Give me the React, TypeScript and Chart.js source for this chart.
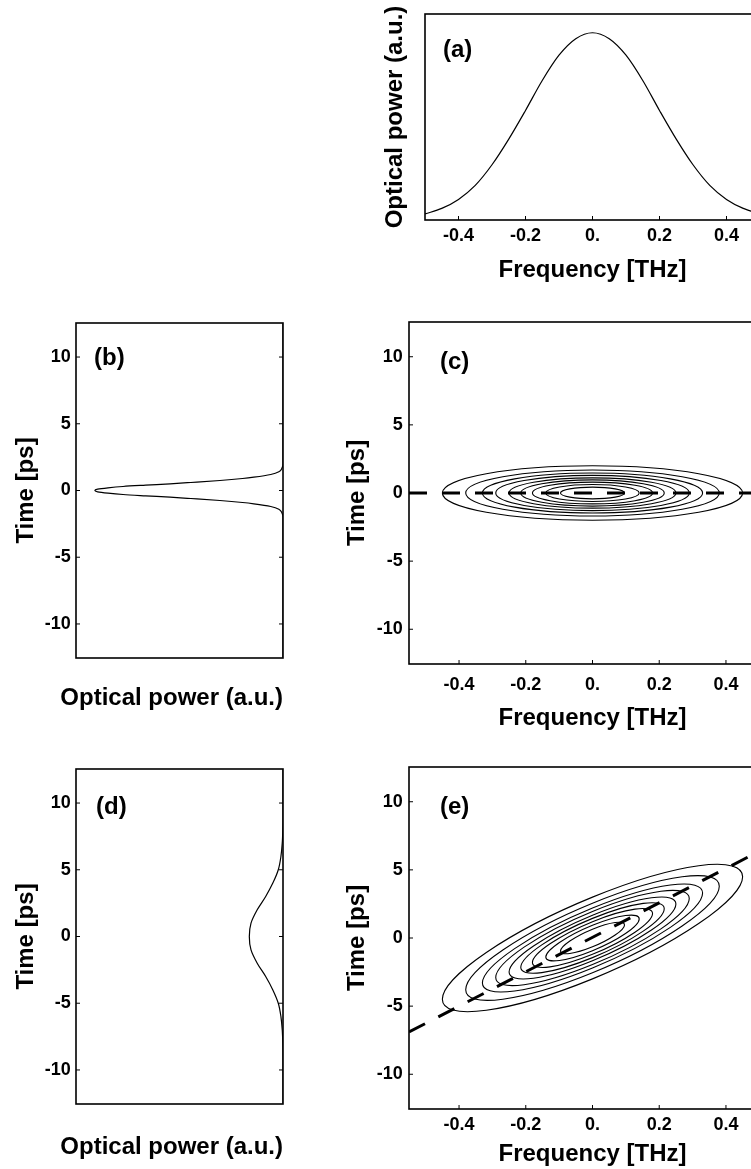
import React, { useEffect, useRef } from "react";
import { Chart, registerables } from "chart.js";

Chart.register(...registerables);

const FONT_FAMILY = "'Liberation Sans', Arial, Helvetica, sans-serif";

// (a) optical spectrum
const spectrumFreq = [-0.5, -0.45, -0.4, -0.35, -0.3, -0.25, -0.2, -0.15, -0.1, -0.05, 0, 0.05, 0.1, 0.15, 0.2, 0.25, 0.3, 0.35, 0.4, 0.45, 0.5];
const spectrumPower = [0.032, 0.062, 0.11, 0.185, 0.295, 0.432, 0.585, 0.745, 0.88, 0.968, 1.0, 0.968, 0.88, 0.745, 0.585, 0.432, 0.295, 0.185, 0.11, 0.062, 0.032];

// (b) temporal profile before dispersion
const inputTime = [-12.5, -2, -1.7, -1.4, -1.2, -1.0, -0.9, -0.75, -0.6, -0.5, -0.4, -0.3, -0.2, -0.1, 0, 0.1, 0.2, 0.3, 0.4, 0.5, 0.6, 0.75, 0.9, 1.0, 1.2, 1.4, 1.7, 2, 12.5];
const inputPower = [0, 0, 0.005, 0.022, 0.065, 0.155, 0.215, 0.335, 0.49, 0.6, 0.73, 0.85, 0.93, 0.985, 1.0, 0.985, 0.93, 0.85, 0.73, 0.6, 0.49, 0.335, 0.215, 0.155, 0.065, 0.022, 0.005, 0, 0];

// (d) temporal profile after dispersion
const outputTime = [-12.5, -9, -8, -7, -6, -5, -4, -3, -2, -1, 0, 1, 2, 3, 4, 5, 6, 7, 8, 9, 12.5];
const outputPower = [0, 0, 0.001, 0.004, 0.011, 0.025, 0.054, 0.092, 0.137, 0.17, 0.179, 0.17, 0.137, 0.092, 0.054, 0.025, 0.011, 0.004, 0.001, 0, 0];

// (c)/(e) time-frequency contour half-widths, outermost first
const contourFreqHalfWidth = [0.45, 0.38, 0.33, 0.29, 0.25, 0.215, 0.18, 0.14, 0.096];
const contourTimeHalfWidth = [2.0, 1.69, 1.47, 1.29, 1.11, 0.96, 0.8, 0.62, 0.43];
const chirpedTimeHalfWidth = [3.0, 2.55, 2.2, 1.95, 1.67, 1.44, 1.2, 0.93, 0.65];
const chirpedShear = 10; // ps per THz

// dashed group-delay lines
const delayFreq = [-0.55, 0.55];
const delayTimeBefore = [0, 0];
const delayTimeAfter = [-6.9, 7.0];

// tick labels
const freqTicks = [-0.4, -0.2, 0, 0.2, 0.4];
const freqTickLabels = ["-0.4", "-0.2", "0.", "0.2", "0.4"];
const timeTicks = [-10, -5, 0, 5, 10];
const timeTickLabels = ["-10", "-5", "0", "5", "10"];

const tickFont = { family: FONT_FAMILY, size: 18, weight: "bold" as const };
const titleFont = { family: FONT_FAMILY, size: 24, weight: "bold" as const };

function framePlugin(label: string, dx: number, dy: number, xTicks: boolean, yTicks: boolean) {
  return {
    id: "panelFrame",
    afterDatasetsDraw(chart: any) {
      const { ctx, chartArea, scales } = chart;
      const { left, top, right, bottom } = chartArea;
      ctx.save();
      ctx.strokeStyle = "#000";
      ctx.lineWidth = 1;
      ctx.beginPath();
      const len = 4;
      if (xTicks) {
        scales.x.ticks.forEach((t: any) => {
          const p = scales.x.getPixelForValue(t.value);
          ctx.moveTo(p, bottom);
          ctx.lineTo(p, bottom - len);
        });
      }
      if (yTicks) {
        scales.y.ticks.forEach((t: any) => {
          const p = scales.y.getPixelForValue(t.value);
          ctx.moveTo(left, p);
          ctx.lineTo(left + len, p);
          ctx.moveTo(right, p);
          ctx.lineTo(right - len, p);
        });
      }
      ctx.stroke();
      ctx.lineWidth = 1.6;
      ctx.strokeRect(left, top, right - left, bottom - top);
      ctx.fillStyle = "#000";
      ctx.font = `bold 24px ${FONT_FAMILY}`;
      ctx.textBaseline = "middle";
      ctx.textAlign = "left";
      ctx.fillText(label, left + dx, top + dy);
      ctx.restore();
    },
  };
}

function contourPlugin(freqHalf: number[], timeHalf: number[], shear: number) {
  return {
    id: "wignerContours",
    beforeDatasetsDraw(chart: any) {
      const { ctx, chartArea, scales } = chart;
      const { x, y } = scales;
      const cx = x.getPixelForValue(0);
      const cy = y.getPixelForValue(0);
      const sx = x.getPixelForValue(1) - cx;
      const sy = cy - y.getPixelForValue(1);
      ctx.save();
      ctx.beginPath();
      ctx.rect(chartArea.left, chartArea.top, chartArea.right - chartArea.left, chartArea.bottom - chartArea.top);
      ctx.clip();
      ctx.strokeStyle = "#000";
      ctx.lineWidth = 1.1;
      freqHalf.forEach((a, i) => {
        const rx = Math.abs(x.getPixelForValue(a) - cx);
        const ry = Math.abs(y.getPixelForValue(timeHalf[i]) - cy);
        ctx.save();
        ctx.transform(1, (-shear * sy) / sx, 0, 1, cx, cy);
        ctx.beginPath();
        ctx.ellipse(0, 0, rx, ry, 0, 0, Math.PI * 2);
        ctx.restore();
        ctx.stroke();
      });
      ctx.restore();
    },
  };
}

function freqAxis(min: number, max: number, height: number, tickPad: number, titlePad: number) {
  return {
    type: "linear",
    position: "bottom",
    min,
    max,
    afterBuildTicks: (s: any) => {
      s.ticks = freqTicks.map((v) => ({ value: v }));
    },
    afterFit: (s: any) => {
      s.height = height;
    },
    ticks: {
      font: tickFont,
      color: "#000",
      padding: tickPad,
      autoSkip: false,
      maxRotation: 0,
      callback: (_v: any, i: number) => freqTickLabels[i],
    },
    grid: { display: false, drawTicks: false },
    border: { display: false },
    title: { display: true, text: "Frequency [THz]", font: titleFont, color: "#000", padding: { top: 0, bottom: titlePad } },
  };
}

function timeAxis(width: number, tickPad: number, titlePad: number) {
  return {
    type: "linear",
    position: "left",
    min: -12.55,
    max: 12.55,
    afterBuildTicks: (s: any) => {
      s.ticks = timeTicks.map((v) => ({ value: v }));
    },
    afterFit: (s: any) => {
      s.width = width;
    },
    ticks: {
      font: tickFont,
      color: "#000",
      padding: tickPad,
      autoSkip: false,
      callback: (_v: any, i: number) => timeTickLabels[i],
    },
    grid: { display: false, drawTicks: false },
    border: { display: false },
    title: { display: true, text: "Time [ps]", font: titleFont, color: "#000", padding: { top: titlePad, bottom: 0 } },
  };
}

const baseOptions = {
  responsive: false,
  animation: false,
  events: [],
};

const hidden = { legend: { display: false }, tooltip: { enabled: false } };

function curveDataset(xs: number[], ys: number[]) {
  return {
    data: xs.map((v, i) => ({ x: v, y: ys[i] })),
    borderColor: "#000",
    borderWidth: 1.2,
    pointRadius: 0,
    fill: false,
    cubicInterpolationMode: "monotone",
  };
}

function dashedDataset(ts: number[]) {
  return {
    data: delayFreq.map((f, i) => ({ x: f, y: ts[i] })),
    borderColor: "#000",
    borderWidth: 3,
    borderDash: [18, 15],
    borderCapStyle: "butt",
    pointRadius: 0,
    fill: false,
    tension: 0,
  };
}

const configA = () => ({
  type: "line",
  data: { datasets: [curveDataset(spectrumFreq, spectrumPower)] },
  options: {
    ...baseOptions,
    layout: { padding: { top: 14, right: 20, left: 0, bottom: 0 } },
    plugins: hidden,
    scales: {
      x: freqAxis(-0.5, 0.5, 70, 5.2, 5.6),
      y: {
        type: "linear",
        position: "left",
        min: 0,
        max: 1.1,
        afterFit: (s: any) => {
          s.width = 65;
        },
        ticks: { display: false },
        grid: { display: false, drawTicks: false },
        border: { display: false },
        title: { display: true, text: "Optical power (a.u.)", font: titleFont, color: "#000", padding: { top: 20.6, bottom: 0 } },
      },
    },
  },
  plugins: [framePlugin("(a)", 18, 36, true, false)],
});

function profileConfig(times: number[], powers: number[], label: string, labelDy: number, titleTop: number) {
  return () => ({
    type: "line",
    data: { datasets: [curveDataset(powers, times)] },
    options: {
      ...baseOptions,
      indexAxis: "y",
      layout: { padding: { top: 23, right: 17, left: 0, bottom: 0 } },
      plugins: {
        ...hidden,
        title: {
          display: true,
          position: "bottom",
          align: "end",
          text: "Optical power (a.u.)",
          font: titleFont,
          color: "#000",
          padding: { top: titleTop, bottom: 7.6 },
        },
      },
      scales: {
        x: { type: "linear", min: 0, max: 1.1, reverse: true, display: false },
        y: timeAxis(76, 5.3, 11.6),
      },
    },
    plugins: [framePlugin(label, label === "(b)" ? 18 : 20, labelDy, false, true)],
  });
}

const configB = profileConfig(inputTime, inputPower, "(b)", 35, 25.6);
const configD = profileConfig(outputTime, outputPower, "(d)", 38, 28.6);

function mapConfig(
  delay: number[],
  timeHalf: number[],
  shear: number,
  label: string,
  xHeight: number,
  tickPad: number,
  titlePad: number
) {
  return () => ({
    type: "line",
    data: { datasets: [dashedDataset(delay)] },
    options: {
      ...baseOptions,
      layout: { padding: { top: 22, right: 24, left: 0, bottom: 0 } },
      plugins: hidden,
      scales: {
        x: freqAxis(-0.55, 0.55, xHeight, tickPad, titlePad),
        y: timeAxis(89, 6.3, 23.1),
      },
    },
    plugins: [contourPlugin(contourFreqHalfWidth, timeHalf, shear), framePlugin(label, 31, 40, true, true)],
  });
}

const configC = mapConfig(delayTimeBefore, contourTimeHalfWidth, 0, "(c)", 71, 10.2, 2.6);
const configE = mapConfig(delayTimeAfter, chirpedTimeHalfWidth, chirpedShear, "(e)", 60, 5.2, 0);

function Panel({ left, top, width, height, makeConfig }: any) {
  const ref = useRef<HTMLCanvasElement | null>(null);
  useEffect(() => {
    const chart = new Chart(ref.current as HTMLCanvasElement, makeConfig() as any);
    return () => chart.destroy();
  }, [makeConfig]);
  return (
    <canvas
      ref={ref}
      width={width}
      height={height}
      style={{ position: "absolute", left, top, width, height }}
    />
  );
}

export default function App() {
  return (
    <div
      style={{
        position: "absolute",
        left: 0,
        top: 0,
        width: 751,
        height: 1169,
        overflow: "hidden",
        background: "#fff",
      }}
    >
      <Panel left={360} top={0} width={420} height={290} makeConfig={configA} />
      <Panel left={0} top={300} width={300} height={420} makeConfig={configB} />
      <Panel left={320} top={300} width={480} height={435} makeConfig={configC} />
      <Panel left={0} top={746} width={300} height={423} makeConfig={configD} />
      <Panel left={320} top={745} width={480} height={424} makeConfig={configE} />
    </div>
  );
}
